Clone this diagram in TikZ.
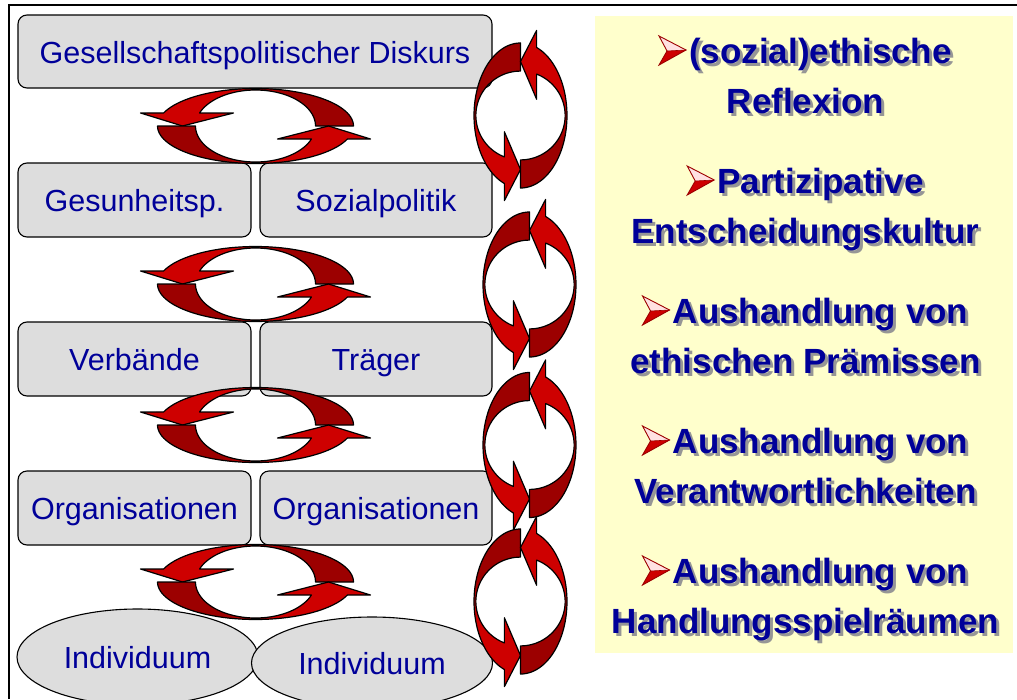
\documentclass[tikz,border=0pt]{standalone}
\usepackage{fontspec}
\setmainfont{Liberation Sans}
\usetikzlibrary{shapes.geometric}

\definecolor{cardgray}{RGB}{221,221,221}
\definecolor{inkblue}{RGB}{0,0,153}
\definecolor{notepaper}{RGB}{255,255,204}
\definecolor{redhi}{RGB}{206,0,0}
\definecolor{redlo}{RGB}{156,0,0}
\definecolor{shadowgray}{RGB}{150,150,150}
\definecolor{facetlight}{RGB}{255,225,225}

\pgfdeclarehorizontalshading{arrowshade}{100bp}{color(0bp)=(redhi); color(25bp)=(redhi); color(50bp)=(redhi); color(60bp)=(redlo); color(100bp)=(redlo)}

\tikzset{
  card/.style={draw=black, line width=1.1pt, fill=cardgray, rounded corners=9pt,
    text=inkblue, font=\fontsize{30.5}{36}\selectfont, text height=23pt, text depth=0pt, inner sep=0pt},
  oval/.style={ellipse, draw=black, line width=1.1pt, fill=cardgray,
    text=inkblue, font=\fontsize{30.5}{36}\selectfont, text height=22pt, text depth=0pt, inner sep=0pt},
  note/.style={anchor=base, inner sep=0pt, font=\fontsize{35}{42}\selectfont\bfseries},
  turn/.style={draw=black, line width=1.2pt, line join=round, shading=arrowshade},
}

% one half of a circular double arrow, drawn around the origin (tail right, head left)
\newcommand{\halfturn}[2]{%
  \shadedraw[turn, shading angle=#2, #1]
    (98,0) -- plot[domain=0:159.7, samples=48, variable=\t] ({98*cos(\t)}, {-37.5*sin(\t)})
    -- (-115,-13) -- (-73,0) -- (-22,-13) -- (-55.9,-13)
    -- plot[domain=0:158.8, samples=48, variable=\t] ({60*cos(158.8-\t)}, {-36*sin(158.8-\t)})
    -- cycle;}
% a lying and a standing pair of arrows turning anticlockwise
\newcommand{\flatturn}[2]{%
  \halfturn{shift={(#1,#2)}}{0}%
  \halfturn{shift={(#1,#2)}, rotate=180}{180}}
\newcommand{\tallturn}[2]{%
  \halfturn{shift={(#1,#2)}, xscale=1.24, yscale=0.74, rotate=90}{90}%
  \halfturn{shift={(#1,#2)}, xscale=1.24, yscale=0.74, rotate=270}{270}}

% 3D arrowhead bullet in front of a note line
\newcommand{\pointerat}[1]{%
  \begin{scope}[shift={(#1.base west)}]
    \fill[facetlight] (0,-27) -- (27,-13) -- (8,-12) -- cycle;
    \fill[redhi] (8,-12) -- (27,-13) -- (0,2) -- cycle;
    \draw[redlo, line width=0.9pt, line join=miter] (0,-27) -- (27,-13) -- (0,2) -- (8,-12) -- cycle;
    \draw[redlo, line width=0.6pt] (8,-12) -- (27,-13);
  \end{scope}}
\newcommand{\bulletline}[3]{% name, baseline, words
  \node[note, text=shadowgray] (#1-shadow) at (808.5,#2+3) {\hspace*{30pt}#3};
  \node[note, text=inkblue] (#1) at (805.5,#2) {\hspace*{30pt}#3};
  \pointerat{#1}}
\newcommand{\plainline}[3]{%
  \node[note, text=shadowgray] (#1-shadow) at (808.5,#2+3) {#3};
  \node[note, text=inkblue] (#1) at (805.5,#2) {#3};}

\begin{document}
\begin{tikzpicture}[x=1pt, y=-1pt]
\useasboundingbox (0,0) rectangle (1017,699);

% frame
\coordinate (frameBL) at (9,699);
\coordinate (frameTL) at (9,5);
\coordinate (frameTR) at (1017,5);
\draw[line width=1.3pt] (frameBL) -- (frameTL) -- (frameTR);

% note panel
\fill[notepaper] (595,16) rectangle (1013,653);

% levels
\node[card, minimum width=474pt, minimum height=73pt] (diskurs) at (255,51.5) {Gesellschaftspolitischer Diskurs};
\node[card, minimum width=233pt, minimum height=74pt] (gesund) at (134.5,200) {Gesunheitsp.};
\node[card, minimum width=232pt, minimum height=74pt] (sozial) at (376,200) {Sozialpolitik};
\node[card, minimum width=233pt, minimum height=74pt] (verband) at (134.5,359) {Verbände};
\node[card, minimum width=232pt, minimum height=74pt] (traeger) at (376,359) {Träger};
\node[card, minimum width=233pt, minimum height=74pt] (orgA) at (134.5,508) {Organisationen};
\node[card, minimum width=232pt, minimum height=74pt] (orgB) at (376,508) {Organisationen};
\node[oval, minimum width=241pt, minimum height=96pt] (indA) at (137.5,657) {Individuum};
\node[oval, minimum width=241pt, minimum height=92pt] (indB) at (372,663) {Individuum};

% exchange between the levels
\flatturn{255.5}{126}
\flatturn{255.5}{284}
\flatturn{255.5}{425}
\flatturn{255.5}{582}

% cycles at the side
\tallturn{520.5}{115.5}
\tallturn{529.5}{284.5}
\tallturn{529.5}{445}
\tallturn{520.5}{601.5}

% notes
\bulletline{n1}{63}{(sozial)ethische}
\plainline{n2}{113}{Reflexion}
\bulletline{n3}{193}{Partizipative}
\plainline{n4}{243}{Entscheidungskultur}
\bulletline{n5}{323}{Aushandlung von}
\plainline{n6}{373}{ethischen Prämissen}
\bulletline{n7}{453}{Aushandlung von}
\plainline{n8}{503}{Verantwortlichkeiten}
\bulletline{n9}{583}{Aushandlung von}
\plainline{n10}{633}{Handlungsspielräumen}
\end{tikzpicture}
\end{document}
